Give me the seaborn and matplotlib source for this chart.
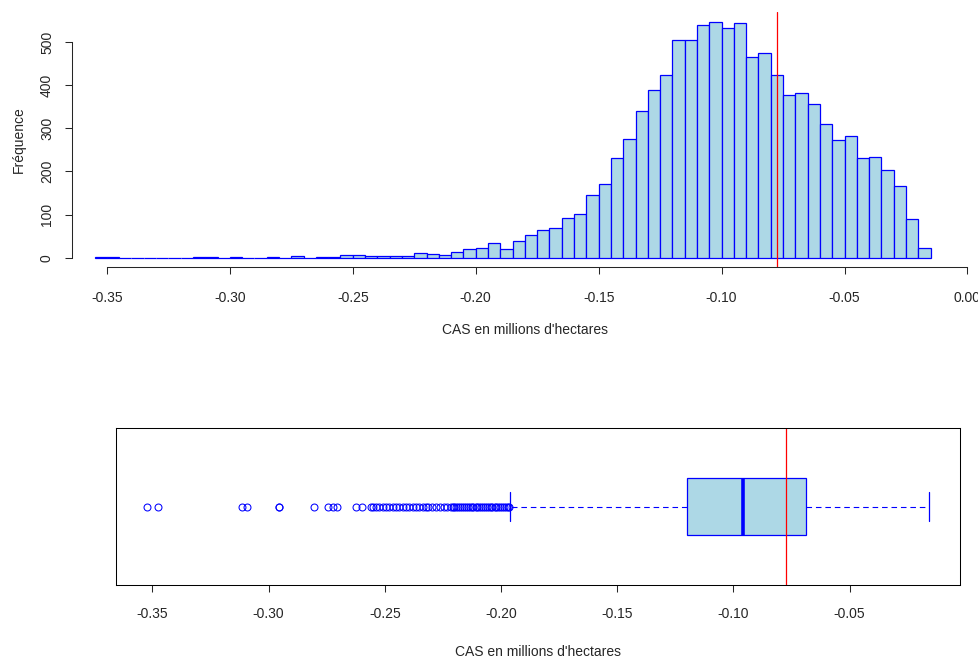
import pandas as pd
import matplotlib.pyplot as plt
import seaborn as sns

# Histogramme : classes de largeur 0.005, de -0.355 a -0.015
debut_classes = -0.355
largeur_classe = 0.005
effectifs = [1, 1, 0, 0, 0, 0, 0, 0, 1, 1, 0, 2, 0, 0, 1, 0, 3, 0, 2, 1,
             7, 7, 5, 5, 5, 5, 11, 9, 6, 13, 19, 22, 33, 19, 38, 52, 64, 68,
             91, 102, 145, 170, 230, 274, 340, 388, 423, 505, 505, 540, 547,
             533, 544, 465, 474, 424, 377, 382, 357, 309, 273, 281, 231, 233,
             204, 167, 90, 23]

# Boite a moustaches (statistiques)
moustache_basse = -0.1961
quartile_1 = -0.1200
mediane = -0.0960
quartile_3 = -0.0689
moustache_haute = -0.0157
valeurs_extremes = [-0.3525, -0.3477, -0.3116, -0.3094, -0.2957, -0.2955,
                    -0.2803, -0.2743, -0.2722, -0.2707, -0.2624, -0.2599,
                    -0.2561, -0.2549, -0.2538, -0.2524, -0.2509, -0.2495,
                    -0.2481, -0.2466, -0.2452, -0.2438, -0.2423, -0.2409,
                    -0.2395, -0.2380, -0.2366, -0.2352, -0.2337, -0.2323,
                    -0.2313, -0.2296, -0.2280, -0.2262, -0.2245, -0.2231,
                    -0.2217, -0.2209, -0.2201, -0.2192, -0.2184, -0.2176,
                    -0.2168, -0.2160, -0.2151, -0.2143, -0.2135, -0.2127,
                    -0.2119, -0.2110, -0.2102, -0.2094, -0.2086, -0.2078,
                    -0.2069, -0.2061, -0.2053, -0.2045, -0.2037, -0.2028,
                    -0.2020, -0.2012, -0.2004, -0.1996, -0.1988, -0.1979,
                    -0.1971, -0.1965]

# Valeur de reference (ligne rouge)
reference = -0.0775

ticks_haut = [-0.35, -0.30, -0.25, -0.20, -0.15, -0.10, -0.05, 0.00]
ticks_y = [0, 100, 200, 300, 400, 500]
ticks_bas = [-0.35, -0.30, -0.25, -0.20, -0.15, -0.10, -0.05]

sns.set_style("ticks")
plt.rcParams['font.family'] = ['Liberation Sans', 'DejaVu Sans']
plt.rcParams['font.size'] = 10
plt.rcParams['axes.linewidth'] = 0.75

fig = plt.figure(figsize=(9.79, 6.57), dpi=100)
W, H = 979, 657

# 1. Histogramme
ax1 = fig.add_axes([72 / W, 1 - 267 / H, (979 - 72) / W, 255 / H])
bords = [round(debut_classes + largeur_classe * i, 4)
         for i in range(len(effectifs) + 1)]
df = pd.DataFrame({'cas': [b + largeur_classe / 2 for b in bords[:-1]],
                   'n': effectifs})
sns.histplot(data=df, x='cas', weights='n', bins=bords, color='#ADD8E6',
             alpha=1, ax=ax1)
for p in ax1.patches:
    p.set_edgecolor('#0000FF')
    p.set_linewidth(0.9)
ax1.axvline(reference, color='red', linewidth=0.9)
ax1.set_xlim(-0.3642, 0.0047)
ax1.set_ylim(-21.6, 569.5)
ax1.set_xticks(ticks_haut)
ax1.set_xticklabels([f'{t:.2f}' for t in ticks_haut])
ax1.set_yticks(ticks_y)
ax1.set_yticklabels([str(t) for t in ticks_y], rotation=90, va='center')
ax1.spines['top'].set_visible(False)
ax1.spines['right'].set_visible(False)
ax1.spines['bottom'].set_bounds(-0.35, 0.0)
ax1.spines['left'].set_bounds(0, 500)
ax1.tick_params(axis='x', length=5, width=0.75, pad=12)
ax1.tick_params(axis='y', length=5, width=0.75, pad=8)
ax1.set_xlabel("CAS en millions d'hectares", labelpad=13.5)
ax1.set_ylabel('Fréquence', labelpad=10)

# 2. Boite a moustaches horizontale
ax2 = fig.add_axes([116 / W, 1 - 585 / H, 844.3 / W, 157 / H])
stats = [dict(whislo=moustache_basse, q1=quartile_1, med=mediane,
              q3=quartile_3, whishi=moustache_haute,
              fliers=valeurs_extremes)]
bp = ax2.bxp(stats, positions=[1], widths=0.395, orientation='horizontal',
             patch_artist=True,
             boxprops=dict(facecolor='#ADD8E6', edgecolor='#0000FF',
                           linewidth=0.9),
             medianprops=dict(color='#0000FF', linewidth=2.6),
             capprops=dict(color='#0000FF', linewidth=0.9),
             capwidths=0.2,
             flierprops=dict(marker='o', markerfacecolor='none',
                             markeredgecolor='#0000FF', markersize=5,
                             markeredgewidth=0.75))
for w in bp['whiskers']:
    w.set_color('#0000FF')
    w.set_linewidth(0.8)
    w.set_linestyle((0, (5, 3.5)))
ax2.axvline(reference, color='red', linewidth=0.9)
ax2.set_xlim(-0.3657, -0.0024)
ax2.set_ylim(0.46, 1.54)
ax2.set_yticks([])
ax2.set_xticks(ticks_bas)
ax2.set_xticklabels([f'{t:.2f}' for t in ticks_bas])
for s in ax2.spines.values():
    s.set_visible(True)
    s.set_color('black')
ax2.tick_params(axis='x', length=5, width=0.75, pad=11)
ax2.set_xlabel("CAS en millions d'hectares", labelpad=17)

plt.savefig('out.png', dpi=100)
